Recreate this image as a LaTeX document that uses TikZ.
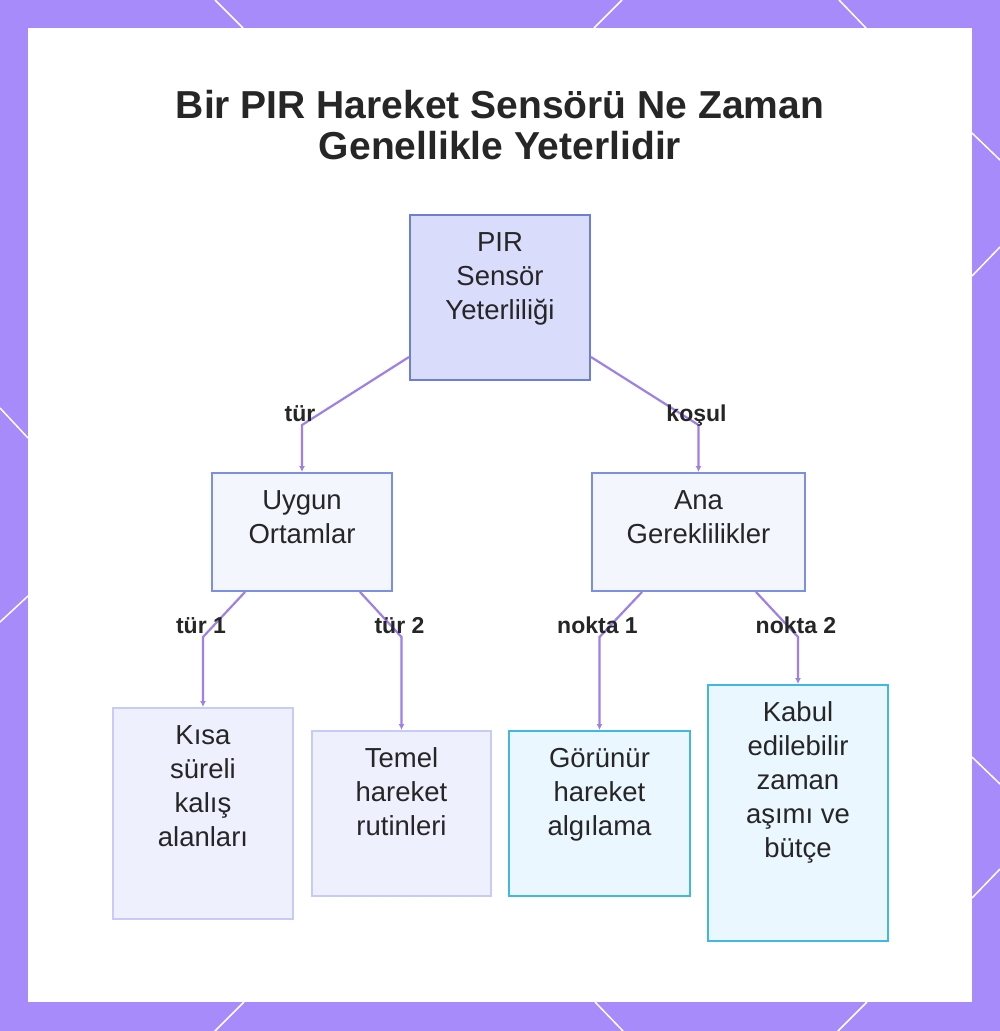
\documentclass[tikz,border=0pt]{standalone}
\usepackage{fontspec}
\setmainfont{Liberation Sans}
\usetikzlibrary{arrows.meta, positioning}

\definecolor{frame}{HTML}{A78BFA}
\definecolor{linkc}{HTML}{9D81E8}
\definecolor{ink}{HTML}{262626}
\definecolor{rootfill}{HTML}{D9DCFB}
\definecolor{rootdraw}{HTML}{6B7FD6}
\definecolor{midfill}{HTML}{F4F6FE}
\definecolor{middraw}{HTML}{7C8FE0}
\definecolor{leaffill}{HTML}{EFF0FD}
\definecolor{leafdraw}{HTML}{C7CBF7}
\definecolor{cyanfill}{HTML}{EBF7FE}
\definecolor{cyandraw}{HTML}{41B8E4}

% box text: width, height, lines
\newcommand{\boxtxt}[3]{\parbox[t][#2][t]{#1}{\centering\vspace{12.7pt}\strut #3}}

\begin{document}
\begin{tikzpicture}[x=1pt, y=-1pt,
    box/.style={draw, line width=2pt, inner sep=0pt, anchor=north west, text=ink,
                font=\fontsize{27.5}{34}\selectfont},
    rootbox/.style={box, fill=rootfill, draw=rootdraw},
    midbox/.style={box, fill=midfill, draw=middraw},
    leafbox/.style={box, fill=leaffill, draw=leafdraw},
    cyanbox/.style={box, fill=cyanfill, draw=cyandraw},
    link/.style={draw=linkc, line width=2.2pt, -{Latex[length=6pt,width=6pt]}},
    lbl/.style={text=ink, font=\fontsize{23}{26}\selectfont\bfseries, anchor=base,
                inner sep=0pt, yshift=4pt, xshift=-2pt}]
   \useasboundingbox (0,0) rectangle (1000,1031);

   % frame
   \fill[frame] (0,0) rectangle (1000,1031);
   \foreach \xa/\ya/\xb/\yb in {215/0/243/28, 622/0/594/28, 839/0/866/28,
                               0/408/28/438, 28/596/0/622,
                               972/133/1000/160, 972/276/1000/247,
                               972/757/1000/784, 972/898/1000/869,
                               244/1002/215/1031, 595/1002/623/1031, 867/1002/838/1031}
     \draw[white, line width=1.5pt] (\xa,\ya) -- (\xb,\yb);
   \fill[white] (28,28) rectangle (972,1002);

   \node[text=ink, align=center, font=\fontsize{39}{41}\selectfont\bfseries] (title)
     at (500,125) {Bir PIR Hareket Sensörü Ne Zaman\\Genellikle Yeterlidir};

   \node[rootbox] (root) at (409,214) {\boxtxt{180pt}{165pt}{PIR\\Sensör\\Yeterliliği}};
   \node[midbox] (env) at (211,472) {\boxtxt{180pt}{118pt}{Uygun\\Ortamlar}};
   \node[midbox] (req) at (591,472) {\boxtxt{213pt}{118pt}{Ana\\Gereklilikler}};
   \node[leafbox] (env_1) at (112,707) {\boxtxt{180pt}{211pt}{Kısa\\süreli\\kalış\\alanları}};
   \node[leafbox] (env_2) at (311,730) {\boxtxt{179pt}{165pt}{Temel\\hareket\\rutinleri}};
   \node[cyanbox] (req_1) at (508,730) {\boxtxt{181pt}{165pt}{Görünür\\hareket\\algılama}};
   \node[cyanbox] (req_2) at (707,684) {\boxtxt{180pt}{256pt}{Kabul\\edilebilir\\zaman\\aşımı ve\\bütçe}};

   \coordinate (row_1) at (0,425);
   \coordinate (row_2) at (0,637);

   \draw[link] ([yshift=24pt]root.south west) -- (row_1 -| env.north)
     node[lbl] {tür} -- (env.north);
   \draw[link] ([yshift=24pt]root.south east) -- (row_1 -| req.north)
     node[lbl] {koşul} -- (req.north);
   \draw[link] ([xshift=34pt]env.south west) -- (row_2 -| env_1.north)
     node[lbl] {tür 1} -- (env_1.north);
   \draw[link] ([xshift=-33pt]env.south east) -- (row_2 -| env_2.north)
     node[lbl] {tür 2} -- (env_2.north);
   \draw[link] ([xshift=51pt]req.south west) -- (row_2 -| req_1.north)
     node[lbl] {nokta 1} -- (req_1.north);
   \draw[link] ([xshift=-50pt]req.south east) -- (row_2 -| req_2.north)
     node[lbl] {nokta 2} -- (req_2.north);
\end{tikzpicture}
\end{document}
